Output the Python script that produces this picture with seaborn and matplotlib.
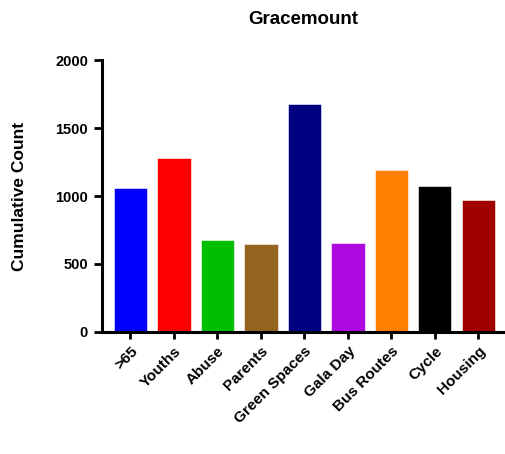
import matplotlib
matplotlib.use("Agg")
import matplotlib.pyplot as plt
import seaborn as sns
import pandas as pd

# data
categories = [">65", "Youths", "Abuse", "Parents", "Green Spaces",
              "Gala Day", "Bus Routes", "Cycle", "Housing"]
counts = [1061, 1282, 678, 646, 1677, 656, 1188, 1072, 974]
colors = ["#0000FF", "#FF0000", "#00BF00", "#956421", "#000080",
          "#AD0ADF", "#FF8000", "#000000", "#A00000"]

df = pd.DataFrame({"category": categories, "count": counts})

sns.set_style("ticks")
plt.rcParams["font.family"] = ["Liberation Sans", "DejaVu Sans"]
plt.rcParams["text.color"] = "black"
plt.rcParams["axes.labelcolor"] = "black"
plt.rcParams["xtick.color"] = "black"
plt.rcParams["ytick.color"] = "black"

fig = plt.figure(figsize=(5.05, 4.54), dpi=100)
ax = fig.add_axes([102 / 505, 122.3 / 454, 403 / 505, 271.4 / 454])

sns.barplot(data=df, x="category", y="count", hue="category",
            palette=colors, legend=False, width=0.76, saturation=1,
            edgecolor="white", linewidth=0.4, ax=ax)

ax.set_ylim(0, 2000)
ax.set_yticks([0, 500, 1000, 1500, 2000])
ax.set_xlim(-0.655, 8.61)

ax.set_title("Gracemount", fontsize=13.5, fontweight="bold", pad=26)
ax.set_ylabel("Cumulative Count", fontsize=12.5, fontweight="bold", labelpad=20)
ax.set_xlabel("")

for s in ["top", "right"]:
    ax.spines[s].set_visible(False)
for s in ["left", "bottom"]:
    ax.spines[s].set_linewidth(2.2)
    ax.spines[s].set_color("black")

ax.tick_params(axis="y", length=6, width=2, labelsize=10.5, pad=4)
ax.tick_params(axis="x", length=5, width=2, labelsize=11, pad=4)
for lab in ax.get_yticklabels():
    lab.set_fontweight("bold")
ax.set_xticks(range(len(categories)))
ax.set_xticklabels(categories, rotation=45, ha="right",
                   rotation_mode="anchor", fontweight="bold")

fig.savefig("out.png", dpi=100)
